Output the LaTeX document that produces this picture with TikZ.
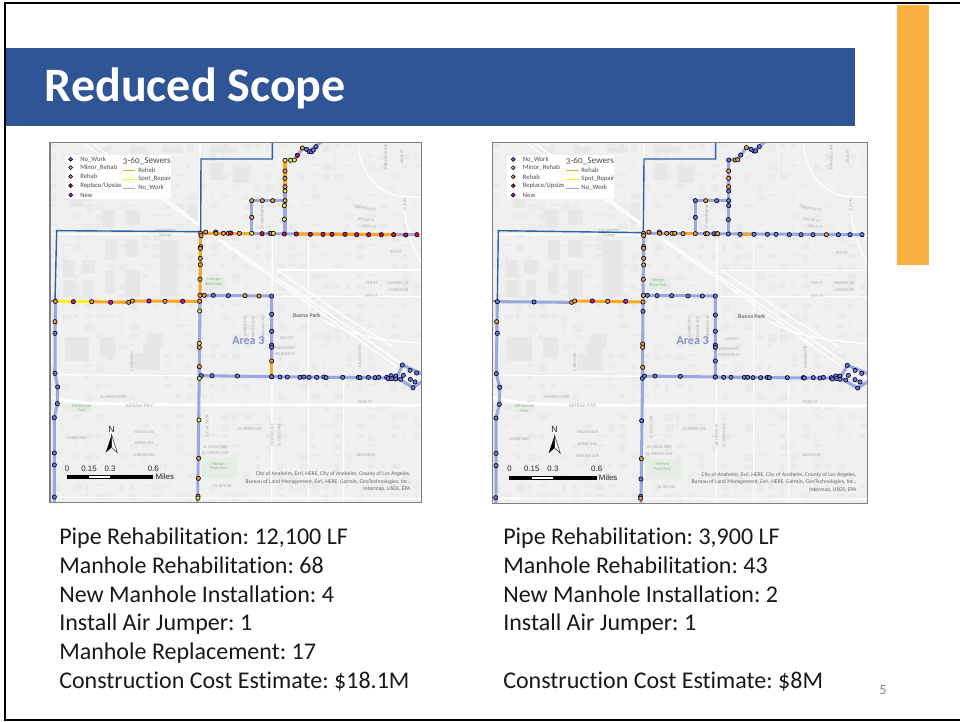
\documentclass[tikz,border=0pt]{standalone}
\usepackage{fontspec}
\setmainfont{Carlito}[Ligatures=NoCommon]
\frenchspacing
\newfontfamily\arialf{Liberation Sans}
\newfontfamily\oldnum[Numbers=OldStyle]{Carlito}
\definecolor{banner}{HTML}{2F5597}
\definecolor{barorange}{HTML}{FBB042}
\definecolor{pipeblue}{HTML}{9AA8DC}
\definecolor{pipeorange}{HTML}{F6A821}
\definecolor{pipeyellow}{HTML}{F7F21E}
\definecolor{bound}{HTML}{2C62A8}
\definecolor{mN}{HTML}{6F7FB8}
\definecolor{mY}{HTML}{F4EE10}
\definecolor{mO}{HTML}{F2A11A}
\definecolor{mR}{HTML}{E01414}
\definecolor{mM}{HTML}{D414A4}
\definecolor{mapbg}{HTML}{F0F0F0}
\definecolor{blockc}{HTML}{E7E7E7}
\definecolor{labelc}{HTML}{AAAAAA}
\definecolor{parkc}{HTML}{E6EDE4}
\tikzset{
  mhole/.style={draw=black!75!blue,line width=.5pt},
  pipe/.style={line width=2.3pt,line cap=round,line join=round},
  pipeb/.style={pipe,draw=pipeblue},
  pipeo/.style={pipe,draw=pipeorange},
  pipey/.style={pipe,draw=pipeyellow},
  boundary/.style={draw=bound,line width=1.05pt,line join=miter},
  road/.style={draw=white,line width=1pt},
  bigroad/.style={draw=white,line width=2.2pt},
  maplabel/.style={text=labelc,font=\fontsize{3.2}{3.6}\selectfont,inner sep=0pt},
  legtext/.style={text=black!70,font=\fontsize{5}{6}\selectfont,anchor=west,inner sep=0pt},
  scaletext/.style={font=\arialf\fontsize{5.9}{7}\selectfont,inner sep=0pt,text=black!85},
  bodytext/.style={anchor=north west,align=left,inner sep=0pt,text=black!90,font=\fontsize{18}{21.6}\selectfont},
}
\newcommand\mholes[2]{\foreach \p in {#2}{\draw[mhole,fill=#1] \p circle[radius=6.4];}}
\newcommand\mapbase{%
  \fill[mapbg] (0,8) rectangle (1115,1088);
  \pgfmathsetseed{4242}
  \foreach \xx in {0,34,...,1090}{\foreach \yy in {8,38,...,1070}{%
    \pgfmathparse{rnd}%
    \ifdim\pgfmathresult pt<0.5pt
      \pgfmathsetmacro\ww{8+20*rnd}\pgfmathsetmacro\hh{6+18*rnd}%
      \fill[blockc!70!mapbg] (\xx+3,\yy+3) rectangle ++(\ww,\hh);
    \fi}}
  \foreach \ra/\rb/\rc/\rd in {45/590/118/662,155/210/195/262,225/210/270/255,40/360/75/410,95/360/135/400,40/420/75/470,
     100/420/130/470,165/300/200/360,165/390/195/460,225/300/265/350,225/390/270/470,330/300/385/470,
     410/190/440/250,60/130/100/200,480/70/520/120,550/80/600/130,150/590/195/650,290/580/340/620,
     280/610/330/690,250/640/290/690,130/20/180/40,240/20/290/40,340/20/400/40,480/20/560/40}
    {\fill[blockc] (\ra,\rb) rectangle (\rc,\rd);}
  \fill[parkc] (465,412) rectangle (525,450);
  \fill[parkc] (455,955) rectangle (560,1015);
  \fill[parkc] (60,792) rectangle (125,815);
  % roads
  \draw[road] (0,283) -- (1115,285);
  \draw[road] (0,484) -- (450,484);
  \draw[road] (450,468) -- (1115,470);
  \draw[road] (0,704) -- (1115,712);
  \draw[road] (0,1072) -- (1115,1076);
  \draw[road] (680,390) -- (1115,390);
  \draw[bigroad] (0,770) .. controls (50,785) and (100,792) .. (300,794) -- (1115,796);
  \draw[road] (450,8) -- (448,1088);
  \draw[road] (667,290) -- (665,1088);
  \draw[road] (775,300) -- (775,1088);
  \draw[road] (880,700) -- (880,1088);
  \draw[road] (1060,165) .. controls (1060,240) and (1085,320) .. (1115,370);
  \draw[road] (925,8) .. controls (925,90) and (980,165) .. (1060,170) -- (1115,170);
  \draw[road] (100,8) -- (450,260) -- (830,530) -- (1040,680);
  \draw[road] (125,8) -- (470,270) -- (850,530) -- (1060,675);
  \draw[road] (680,390) -- (900,540) -- (1030,620);
  \draw[road] (820,540) .. controls (900,590) and (1000,600) .. (1115,610);
  % street labels
  \node[maplabel] (l1) at (347,270) {Los Angeles};
  \node[maplabel] (l2) at (347,287) {Orange};
  \node[maplabel,align=center,text=labelc!80!green] (l3) at (491,426) {George\\Bible Park};
  \node[maplabel] (l4) at (965,428) {9TH ST};
  \node[maplabel] (l5) at (965,468) {8TH ST};
  \node[maplabel] (l6) at (1045,430) {MANDEL DR};
  \node[maplabel] (l7) at (1045,450) {CHOPIN DR};
  \node[maplabel] (l8) at (1038,337) {8TH ST};
  \node[maplabel,rotate=-7] (l9) at (960,260) {HOLT ST};
  \node[maplabel,rotate=-7] (l10) at (948,240) {TAYLOR ST};
  \node[maplabel,rotate=-10] (l11) at (945,205) {FRANKLIN ST};
  \node[maplabel,rotate=-90] (l12) at (1064,195) {DALE ST};
  \node[maplabel,rotate=-90] (l13) at (637,232) {BURNHAM ST};
  \node[maplabel,rotate=90] (l14) at (1007,50) {PRA HILLS AVE};
  \node[maplabel,rotate=90] (l15) at (1055,50) {DALE ST};
  \node[maplabel,rotate=90] (l16) at (585,560) {GUARD AVE};
  \node[maplabel,rotate=90] (l17) at (610,565) {STANTON AVE};
  \node[maplabel,rotate=90] (l18) at (640,565) {BURNHAM AVE};
  \node[maplabel] (l19) at (710,595) {16TH ST};
  \node[maplabel] (l20) at (703,625) {WILLIAM PL};
  \node[maplabel] (l21) at (703,643) {MELROSE ST};
  \node[maplabel] (l22) at (190,771) {FLAMINGO DR};
  \node[maplabel,font=\fontsize{3.8}{4}\selectfont] (l23) at (268,797) {ARTESIA FWY};
  \node[maplabel] (l24) at (945,785) {PAGE ST};
  \node[maplabel] (l25) at (80,895) {CLARK WAY};
  \node[maplabel] (l26) at (283,875) {NAOMI AVE};
  \node[maplabel] (l27) at (283,910) {BERRY AVE};
  \node[maplabel] (l28) at (283,945) {THELMA AVE};
  \node[maplabel] (l29) at (497,921) {EL VELOZ WAY};
  \node[maplabel] (l30) at (497,940) {EL VIENTO WAY};
  \node[maplabel] (l31) at (518,1038) {EL REY DR};
  \node[maplabel] (l32) at (600,867) {EL PRADO DR};
  \node[maplabel] (l33) at (948,944) {GLOVER ST};
  \node[maplabel,rotate=90] (l34) at (472,860) {EL CHICO CIR};
  \node[maplabel,rotate=90] (l35) at (666,885) {NIEMAN AVE};
  \node[maplabel,rotate=90] (l36) at (688,885) {EL CHICO AVE};
  \node[maplabel,rotate=90] (l37) at (245,665) {S ARMS RD};
  \node[maplabel,rotate=90] (l38) at (930,650) {MADISON ST};
  \node[maplabel,align=center,text=labelc!80!green] (l39) at (95,804) {Gilt Bennet\\Park};
  \node[maplabel,align=center,text=labelc!80!green] (l40) at (505,978) {Hillman\\Peak Park};
  \node[text=black!55,font=\bfseries\fontsize{4.3}{5}\selectfont,inner sep=0pt] (bp) at (770,528) {Buena Park};
}
\newcommand\mapover{%
  \node[text=mN!85!white,font=\bfseries\fontsize{9}{10}\selectfont,inner sep=0pt] (a3) at (595,602) {Area 3};
  % legend
  \fill[white] (45,45) rectangle (362,176);
  \foreach \yy/\cc/\lbl in {58/mN/No\_Work,83/mY/Minor\_Rehab,110/mO/Rehab,137/mR/Replace\slash Upsize,165/mM/New}{%
    \draw[mhole,fill=\cc] (62,\yy) circle[radius=5.8];
    \node[legtext] at (90,\yy) {\lbl};}
  \node[legtext,font=\oldnum\fontsize{6.9}{8}\selectfont] (lt) at (218,62) {3-60\_Sewers};
  \draw[pipeorange,line width=.7pt] (218,91) -- (256,91);
  \draw[pipeyellow,line width=.7pt] (218,117) -- (256,117);
  \draw[pipeblue,line width=.7pt] (218,144) -- (256,144);
  \node[legtext] (la) at (264,90) {Rehab};
  \node[legtext] (lb) at (264,117) {Spot\_Repair};
  \node[legtext] (lc) at (264,144) {No\_Work};
  % north arrow and scale
  \node[scaletext,font=\arialf\fontsize{6.6}{7}\selectfont] (nn) at (185,868) {N};
  \fill[black] (185,885) -- (167,938) -- (185,922) -- cycle;
  \draw[black,fill=white,line width=.3pt] (185,885) -- (202,938) -- (185,922) -- cycle;
  \fill[black] (50,1005) rectangle (310,1018);
  \fill[white] (117,1008) rectangle (180,1015);
  \node[scaletext] (s0) at (51,985) {0};
  \node[scaletext] (s1) at (117,985) {0.15};
  \node[scaletext] (s2) at (180,985) {0.3};
  \node[scaletext] (s3) at (310,985) {0.6};
  \node[scaletext,anchor=west] (s4) at (316,1010) {Miles};
  \node[anchor=east,align=right,inner sep=0pt,text=black!60,font=\fontsize{4.2}{5.45}\selectfont] (attr) at (1082,1025)
    {City of Anaheim, Esri, HERE, City of Anaheim, County of Los Angeles,\\Bureau of Land Management, Esri, HERE, Garmin, GeoTechnologies, Inc.,\\Intermap, USGS, EPA};
  \draw[black!50,line width=.8pt] (0,8) rectangle (1115,1088);
}
\begin{document}
\begin{tikzpicture}[x=.75pt,y=-.75pt]
\useasboundingbox (0,0) rectangle (960,721);
\fill[white] (0,0) rectangle (960,721);
% orange bar
\fill[barorange] (897,5) rectangle (929,265);
% slide border
\draw[black,line width=1.5pt] (960,3) -- (4.5,3) -- (4.5,719.5) -- (960,719.5);
% banner
\fill[banner] (5.5,48) rectangle (855,126);
\node[anchor=west,inner sep=0pt,text=white,font=\bfseries\fontsize{36}{40}\selectfont] (title) at (44.5,88) {Reduced Scope};
% LEFT MAP
\begin{scope}[shift={(50,140)},x=.25pt,y=-.25pt]
  \begin{scope}
    \clip (0,8) rectangle (1115,1088);
    \mapbase
    \draw[boundary] (667,8) -- (667,57) -- (453,57) -- (452,275) -- (20,272) -- (15,483) -- (0,483);
    \draw[pipeb] (452,280) -- (1102,284);
    \draw[pipeo] (460,280) -- (605,281) (740,282) -- (1040,284);
    \draw[pipeb] (605,182) -- (705,182) (605,182) -- (605,281) (705,150) -- (705,282);
    \draw[pipeo] (705,60) -- (705,150);
    \draw[pipeb] (705,60) -- (735,60) -- (757,25) -- (778,33) -- (815,5);
    \draw[pipeo] (452,280) -- (450,484);
    \draw[pipey] (16,484) -- (125,485);
    \draw[pipeo] (125,485) -- (236,487) -- (247,483) -- (449,484);
    \draw[pipeb] (450,484) -- (447,760) -- (443,1095);
    \draw[pipeb] (16,484) -- (15,700) -- (23,741) -- (22,791) -- (13,833) -- (13,1095);
    \draw[pipeb] (450,466) -- (665,468) -- (665,663);
    \draw[pipeo] (665,663) -- (665,710);
    \draw[pipeb] (450,707) -- (665,710) -- (1040,714);
    \draw[pipeb] (1040,714) -- (1057,675) -- (1120,703);
    \draw[pipeb] (1040,712) -- (1089,743) -- (1120,722);
    \mholes{mN}{(770,28),(778,35),(785,35),(790,30),(798,20),(490,466),(535,467),(665,468),(665,523),
      (15,580),(15,700),(23,741),(22,791),(13,833),(13,939),(13,975),(13,1071),
      (454,707),(486,707),(562,708),(665,710),(665,710),(690,711),(712,711),(750,712),(762,711),(777,712),(800,712),(822,711),(828,713),(878,712),(925,712),(930,713),(955,712),(975,713),(986,712),(1010,712),(1015,716),(1023,707),(1025,716),(1037,708),(1037,717),(1052,718),(1060,706),(1057,675),(1080,691),(1100,699),(1081,718),(1095,726),(1089,743),
      (665,574),(665,615),(665,622)}
    \mholes{mO}{(757,24),(705,93),(705,115),(705,140),(705,182),(668,182),(637,182),(605,182),(605,232),
      (452,280),(467,276),(497,276),(498,280),(520,280),(535,280),(568,280),(660,280),
      (453,287),(452,320),(451,325),(451,355),(451,374),(450,418),(450,466),(449,484),(463,466),(585,467),(627,468),
      (16,484),(125,485),(236,487),(247,483),(345,484),(15,545),
      (448,622),(448,680),(665,663),(446,955),(445,1015),(444,1069)}
    \mholes{mY}{(705,61),(722,61),(733,60),(705,153),(703,197),(703,238),(605,280),(665,280),(670,280),(449,513),
      (448,610),(448,715),(447,840),(444,1074)}
    \mholes{mR}{(742,46),(542,279),(636,281),(703,282),(739,282),(781,283),(819,283),(846,283),(885,283),(920,284),(956,284),(994,284),(1031,284),(1067,285),(1101,284)}
    \mholes{mM}{(70,485),(182,487),(297,483),(398,484)}
  \end{scope}
  \mapover
\end{scope}
% RIGHT MAP
\begin{scope}[shift={(492.33,140)},x=.2525pt,y=-.2505pt]
  \begin{scope}
    \clip (0,8) rectangle (1115,1088);
    \mapbase
  \end{scope}
\end{scope}
\begin{scope}[shift={(490,140)},x=.25pt,y=-.25pt]
  \begin{scope}
    \clip (7,8) rectangle (1133,1091);
    \draw[boundary] (677,8) -- (677,57) -- (462,57) -- (460,278) -- (25,272) -- (22,483) -- (7,483);
    \draw[pipeb] (460,280) -- (1117,284);
    \draw[pipeo] (580,281) -- (616,281) (758,283) -- (792,283);
    \draw[pipeb] (616,182) -- (716,182) (616,182) -- (616,281) (716,60) -- (716,282);
    \draw[pipeb] (716,60) -- (743,59) -- (769,23) -- (792,33) -- (825,5);
    \draw[pipeb] (461,280) -- (459,486);
    \draw[pipeb] (22,485) -- (245,487);
    \draw[pipeo] (245,487) -- (254,483) -- (459,486);
    \draw[pipeb] (459,486) -- (457,760) -- (453,1095);
    \draw[pipeb] (22,485) -- (19,701) -- (29,742) -- (28,793) -- (18,834) -- (18,1095);
    \draw[pipeb] (460,466) -- (676,468) -- (676,711);
    \draw[pipeb] (460,708) -- (676,711) -- (1050,715);
    \draw[pipeb] (1050,715) -- (1072,676) -- (1138,703);
    \draw[pipeb] (1050,713) -- (1103,744) -- (1138,722);
    \mholes{mN}{(716,60),(752,45),(783,28),(792,33),(797,33),(808,20),(716,153),(716,182),(680,182),(616,182),(616,232),(716,197),(715,239),
      (672,281),(715,282),(750,283),(792,283),(832,283),(858,283),(898,284),(933,284),(969,284),(1045,284),(1080,284),(1116,284),
      (459,514),(472,466),(501,467),(545,467),(594,468),(637,468),(676,468),(676,525),(22,485),(132,486),
      (22,580),(19,701),(29,742),(28,793),(18,834),(18,940),(18,977),(17,1073),
      (457,715),(463,708),(495,708),(571,709),(676,711),(676,711),(701,712),(723,712),(763,712),(773,712),(789,713),(812,713),(832,712),(838,713),(892,713),(940,713),(943,714),(970,713),(990,714),(1000,712),(1024,713),(1027,717),(1037,708),(1040,716),(1050,708),(1050,718),(1067,720),(1075,706),(1072,676),(1095,691),(1115,700),(1095,719),(1110,726),(1103,744),
      (676,574),(676,615),(676,622),(676,663),(455,842),(453,1017),(452,1069)}
    \mholes{mO}{(769,23),(716,93),(716,115),(716,140),(647,182),(735,60),(743,59),
      (461,280),(461,287),(477,276),(508,276),(509,280),(530,280),(546,280),(554,280),(579,281),(616,281),(647,281),(652,281),(680,281),(683,281),(1009,284),
      (461,320),(461,325),(461,355),(461,375),(460,418),(460,466),(459,486),(245,487),(254,483),(353,484),(20,545),
      (458,612),(458,622),(458,682),(454,956),(452,1075)}
    \mholes{mM}{(307,483),(407,484)}
  \end{scope}
\end{scope}
\begin{scope}[shift={(492.33,140)},x=.2525pt,y=-.2505pt]
  \mapover
\end{scope}
% statistics
\node[bodytext] (ltext) at (59,527.5)
 {Pipe Rehabilitation: 12,100 LF\\Manhole Rehabilitation: 68\\New Manhole Installation: 4\\Install Air Jumper: 1\\Manhole Replacement: 17\\Construction Cost Estimate: \$18.1M};
\node[bodytext] (rtext) at (503,527.5)
 {Pipe Rehabilitation: 3,900 LF\\Manhole Rehabilitation: 43\\New Manhole Installation: 2\\Install Air Jumper: 1\\\mbox{}\\Construction Cost Estimate: \$8M};
\node[inner sep=0pt,text=black!50,font=\fontsize{10.5}{12}\selectfont] (pg) at (883,690) {5};
\end{tikzpicture}
\end{document}
